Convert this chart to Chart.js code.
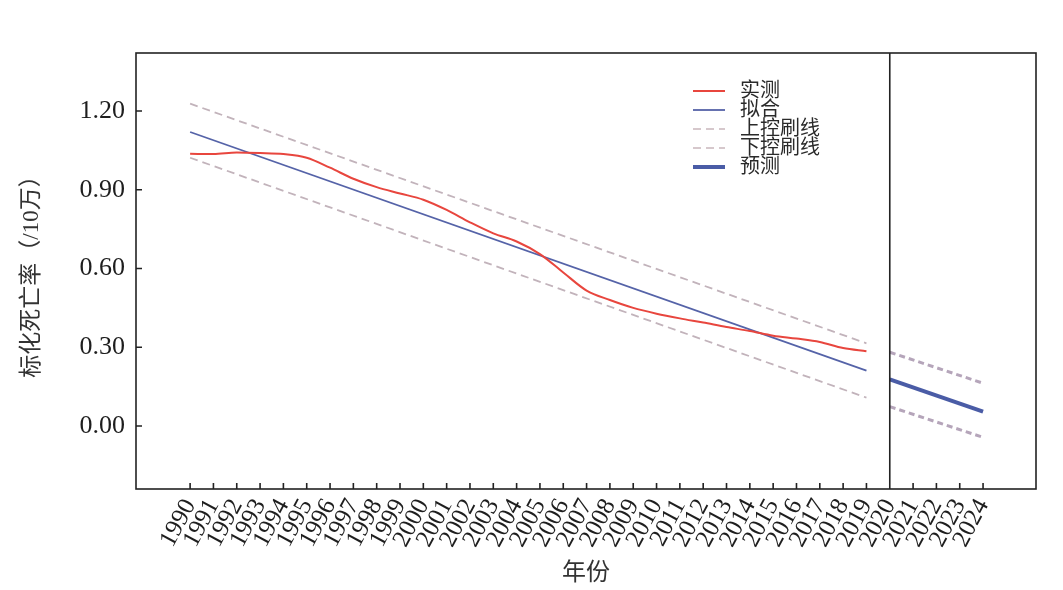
<!DOCTYPE html>
<html>
<head>
<meta charset="utf-8">
<script src="https://cdn.jsdelivr.net/npm/chart.js@4.4.1/dist/chart.umd.min.js"></script>
<style>
  html, body { margin: 0; padding: 0; background: #fff; }
  canvas { display: block; }
</style>
</head>
<body>
<canvas id="chart" width="1063" height="590"></canvas>
<script>
// 观测年份与实测标化死亡率（/10万）
const years = [1990, 1991, 1992, 1993, 1994, 1995, 1996, 1997, 1998, 1999,
               2000, 2001, 2002, 2003, 2004, 2005, 2006, 2007, 2008, 2009,
               2010, 2011, 2012, 2013, 2014, 2015, 2016, 2017, 2018, 2019];
const measured = [1.037, 1.036, 1.042, 1.040, 1.036, 1.022, 0.984, 0.942, 0.910, 0.886,
                  0.862, 0.823, 0.776, 0.734, 0.703, 0.655, 0.585, 0.516, 0.480, 0.450,
                  0.428, 0.410, 0.394, 0.377, 0.362, 0.344, 0.333, 0.320, 0.297, 0.285];

// 拟合线与控制线（端点）
const fitYears = [1990, 2019];
const fitValues = [1.120, 0.211];
const upperValues = [1.228, 0.315];
const lowerValues = [1.022, 0.108];

// 预测（2020-2024）
const forecastYears = [2020, 2021, 2022, 2023, 2024];
const predYears = [2020, 2024];
const predValues = [0.178, 0.055];
const predUpper = [0.281, 0.163];
const predLower = [0.074, -0.043];

const yTickValues = [0, 0.3, 0.6, 0.9, 1.2];
const tickYears = years.concat(forecastYears);
const SPLIT_YEAR = 2020;

const SERIF = '"Liberation Serif", "Noto Sans CJK SC", serif';
const pts = (xs, ys) => xs.map((x, i) => ({ x: x, y: ys[i] }));

const legendBox = {
    id: 'legendBox',
    afterDraw(chart) {
        const ctx = chart.ctx;
        const items = chart.data.datasets.filter(ds => ds.inLegend);
        ctx.save();
        ctx.font = '20px ' + SERIF;
        ctx.textBaseline = 'middle';
        ctx.textAlign = 'left';
        items.forEach((ds, i) => {
            const y = 91 + i * 19;
            ctx.beginPath();
            ctx.setLineDash(ds.borderDash || []);
            ctx.lineWidth = ds.borderWidth;
            ctx.strokeStyle = ds.legendColor || ds.borderColor;
            ctx.moveTo(693, y);
            ctx.lineTo(725, y);
            ctx.stroke();
            ctx.setLineDash([]);
            ctx.fillStyle = '#2a2a2a';
            ctx.fillText(ds.label, 740, y + 1);
        });
        ctx.restore();
    }
};

const framePlugin = {
    id: 'frame',
    afterDatasetsDraw(chart) {
        const { ctx, chartArea: a, scales } = chart;
        const xs = scales.x, ys = scales.y;
        ctx.save();
        ctx.strokeStyle = '#222';
        ctx.lineWidth = 1.6;
        ctx.strokeRect(a.left, a.top, a.right - a.left, a.bottom - a.top);
        ctx.beginPath();
        const sx = xs.getPixelForValue(SPLIT_YEAR);
        ctx.moveTo(sx, a.top);
        ctx.lineTo(sx, a.bottom);
        // 向内的刻度线
        ys.ticks.forEach(t => {
            const py = ys.getPixelForValue(t.value);
            ctx.moveTo(a.left, py);
            ctx.lineTo(a.left + 6, py);
        });
        xs.ticks.forEach(t => {
            const px = xs.getPixelForValue(t.value);
            ctx.moveTo(px, a.bottom);
            ctx.lineTo(px, a.bottom - 6);
        });
        ctx.stroke();
        ctx.restore();
    }
};

new Chart(document.getElementById('chart'), {
    type: 'line',
    data: {
        datasets: [
            { label: '实测', inLegend: true, data: pts(years, measured), borderColor: '#e8463e',
              borderWidth: 2, pointRadius: 0, cubicInterpolationMode: 'monotone', order: 1 },
            { label: '拟合', inLegend: true, data: pts(fitYears, fitValues), borderColor: '#5563a8',
              borderWidth: 1.8, pointRadius: 0, order: 2 },
            { label: '上控刷线', inLegend: true, data: pts(fitYears, upperValues), borderColor: '#c2b3bb',
              legendColor: '#d6c8cc', borderWidth: 1.8, borderDash: [8, 5], pointRadius: 0, order: 3 },
            { label: '下控刷线', inLegend: true, data: pts(fitYears, lowerValues), borderColor: '#c2b3bb',
              legendColor: '#d6c8cc', borderWidth: 1.8, borderDash: [8, 5], pointRadius: 0, order: 3 },
            { label: '预测', inLegend: true, data: pts(predYears, predValues), borderColor: '#4a5ca6',
              borderWidth: 4, pointRadius: 0, order: 1 },
            { label: '预测上限', data: pts(predYears, predUpper), borderColor: '#b5a5ba',
              borderWidth: 3, borderDash: [6, 4], pointRadius: 0, order: 3 },
            { label: '预测下限', data: pts(predYears, predLower), borderColor: '#b5a5ba',
              borderWidth: 3, borderDash: [6, 4], pointRadius: 0, order: 3 }
        ]
    },
    options: {
        responsive: false,
        devicePixelRatio: 1,
        animation: false,
        layout: { padding: { top: 53, right: 27, left: 0, bottom: 0 } },
        plugins: {
            legend: { display: false },
            tooltip: { enabled: false }
        },
        scales: {
            x: {
                type: 'linear',
                min: 1987.68,
                max: 2026.27,
                afterBuildTicks: scale => { scale.ticks = tickYears.map(v => ({ value: v })); },
                afterFit: scale => { scale.height = 101; },
                grid: { display: false, drawTicks: false },
                border: { display: false },
                ticks: {
                    autoSkip: false,
                    minRotation: 62,
                    maxRotation: 62,
                    padding: 5,
                    color: '#1e1e1e',
                    font: { family: SERIF, size: 25 },
                    callback: v => String(v)
                },
                title: {
                    display: true,
                    text: '年份',
                    color: '#333',
                    font: { family: SERIF, size: 24 },
                    padding: { top: 0, bottom: 2 }
                }
            },
            y: {
                min: -0.24,
                max: 1.421,
                afterBuildTicks: scale => { scale.ticks = yTickValues.map(v => ({ value: v })); },
                afterFit: scale => { scale.width = 136; },
                grid: { display: false, drawTicks: false },
                border: { display: false },
                ticks: {
                    padding: 11,
                    color: '#1e1e1e',
                    font: { family: SERIF, size: 26 },
                    callback: v => v.toFixed(2)
                },
                title: {
                    display: true,
                    text: '标化死亡率（/10万）',
                    color: '#333',
                    font: { family: SERIF, size: 23 },
                    padding: { top: 18, bottom: 0 }
                }
            }
        }
    },
    plugins: [legendBox, framePlugin]
});
</script>
</body>
</html>
